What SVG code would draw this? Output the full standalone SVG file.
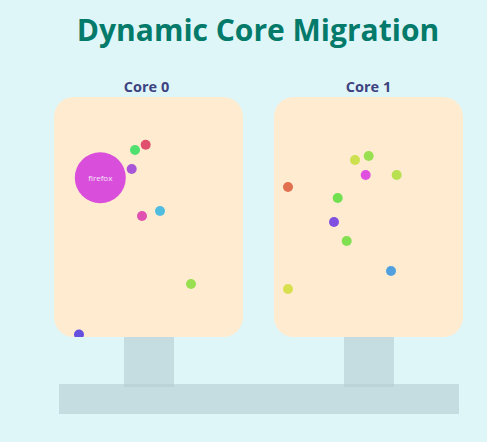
<svg xmlns="http://www.w3.org/2000/svg" width="487" height="442" viewBox="0 0 487 442">
<style>
.core{fill:#ffebcf}
.support{fill:#b4cdd0;fill-opacity:0.6}
.title{font-family:"Open Sans","Noto Sans",sans-serif;font-weight:bold;font-size:30px;fill:#037a6a;text-anchor:middle}
.label{font-family:"Open Sans","Noto Sans",sans-serif;font-weight:bold;font-size:14.5px;fill:#3d4380;text-anchor:middle}
.pname{font-family:"Open Sans","Noto Sans",sans-serif;font-size:8px;fill:#f5e6f5;text-anchor:middle}
</style>
<defs>
<clipPath id="c0"><rect x="54" y="97" width="189" height="240" rx="20"/></clipPath>
<clipPath id="c1"><rect x="274" y="97" width="189" height="240" rx="20"/></clipPath>
</defs>
<rect width="487" height="442" fill="#dff6f8"/>
<text class="title" x="258" y="41">Dynamic Core Migration</text>
<g id="base">
<rect class="support" x="59" y="384" width="400" height="30"/>
<rect class="support" x="124" y="337" width="50" height="50"/>
<rect class="support" x="344" y="337" width="50" height="50"/>
</g>
<g id="core0">
<text class="label" x="146.5" y="92">Core 0</text>
<rect class="core" x="54" y="97" width="189" height="240" rx="20"/>
<g clip-path="url(#c0)">
<circle cx="145.7" cy="144.7" r="5" fill="#e0506e"/>
<circle cx="135" cy="150" r="5" fill="#50e070"/>
<circle cx="131.7" cy="169" r="5" fill="#a855d8"/>
<circle cx="100.3" cy="177.7" r="25.5" fill="#d94fdc"/>
<text class="pname" x="100.3" y="180.5">firefox</text>
<circle cx="160" cy="211" r="5" fill="#50bde0"/>
<circle cx="142" cy="216" r="5" fill="#e050b0"/>
<circle cx="191" cy="284" r="5" fill="#98e050"/>
<circle cx="79" cy="334.5" r="5" fill="#6650e0"/>
</g>
</g>
<g id="core1">
<text class="label" x="368.5" y="92">Core 1</text>
<rect class="core" x="274" y="97" width="189" height="240" rx="20"/>
<g clip-path="url(#c1)">
<circle cx="355" cy="160" r="5" fill="#cce050"/>
<circle cx="368.7" cy="156" r="5" fill="#98e050"/>
<circle cx="365.7" cy="175" r="5" fill="#e050e0"/>
<circle cx="396.7" cy="175" r="5" fill="#b8e050"/>
<circle cx="288" cy="187" r="5" fill="#e07050"/>
<circle cx="337.7" cy="198" r="5" fill="#70e050"/>
<circle cx="334" cy="222" r="5" fill="#8050e0"/>
<circle cx="346.7" cy="241" r="5" fill="#80e050"/>
<circle cx="391" cy="271" r="5" fill="#50a0e0"/>
<circle cx="288" cy="289" r="5" fill="#d8e050"/>
</g>
</g>
<g id="connectors"/>
</svg>
